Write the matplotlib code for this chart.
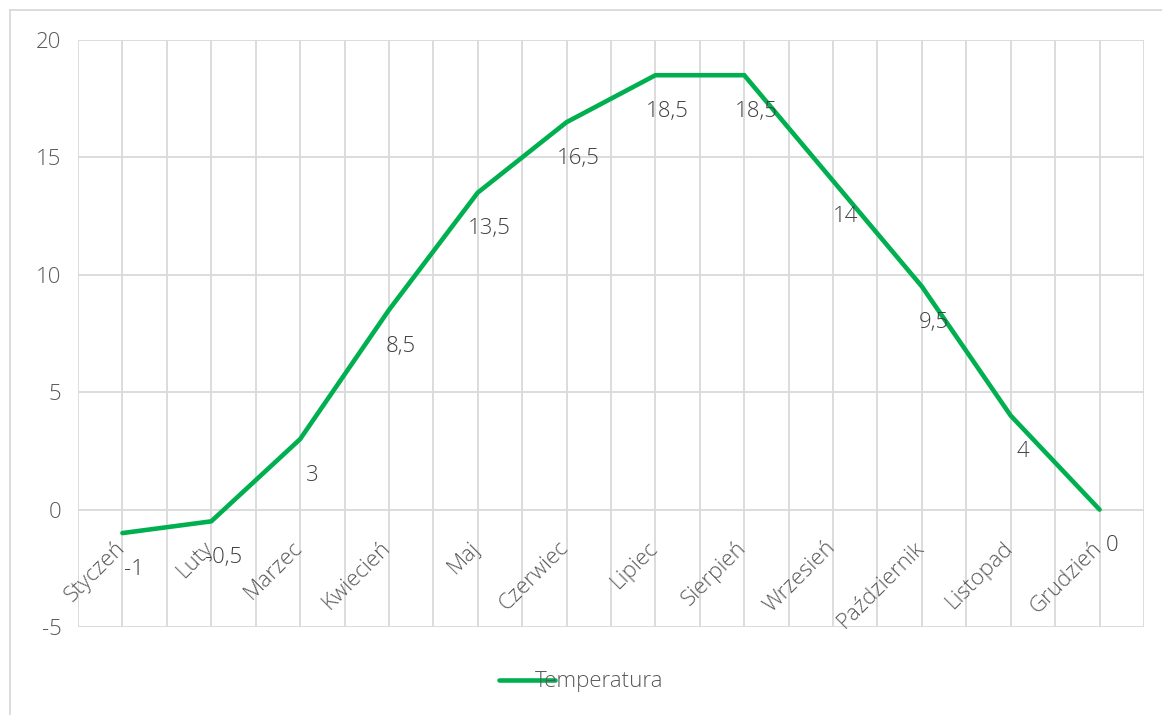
import numpy as np
import matplotlib
matplotlib.use("Agg")
import matplotlib.pyplot as plt
from matplotlib.lines import Line2D
from matplotlib.transforms import offset_copy

plt.rcParams["font.family"] = ["Open Sans", "DejaVu Sans"]
plt.rcParams["font.weight"] = "light"

months = ["Styczeń", "Luty", "Marzec", "Kwiecień", "Maj", "Czerwiec",
          "Lipiec", "Sierpień", "Wrzesień", "Październik", "Listopad", "Grudzień"]
temperatura = [-1, -0.5, 3, 8.5, 13.5, 16.5, 18.5, 18.5, 14, 9.5, 4, 0]
y_ticks = [-5, 0, 5, 10, 15, 20]

GREEN = "#00B050"
GRID = "#D9D9D9"
TEXT = "#595959"
LABEL = "#404040"

W, H = 1162, 715
fig = plt.figure(figsize=(W / 100, H / 100), dpi=100)
ax = fig.add_axes([78 / W, 1 - 627 / H, (1144 - 78) / W, (627 - 40) / H])

x = np.arange(len(months))
ax.plot(x, temperatura, color=GREEN, lw=3.3, solid_capstyle="round",
        solid_joinstyle="miter", label="Temperatura", zorder=3)

ax.set_xlim(-0.5, len(months) - 0.5)
ax.set_ylim(y_ticks[0], y_ticks[-1])
ax.set_yticks(y_ticks)
ax.set_yticklabels([str(v) for v in y_ticks])
ax.set_xticks(np.arange(-0.5, len(months), 0.5))
ax.set_xticklabels([])
ax.tick_params(length=0, labelsize=16, colors=TEXT, pad=12)
ax.grid(True, color=GRID, lw=1.3)
ax.set_axisbelow(True)
for s in ax.spines.values():
    s.set_visible(False)

# category labels sit under the zero line, rotated
for xi, name in zip(x, months):
    tr = offset_copy(ax.transData, fig=fig, x=-1, y=-35, units="dots")
    ax.text(xi, 0, name, transform=tr, rotation=45, rotation_mode="anchor",
            ha="right", va="center", fontsize=16, color=TEXT)

# value labels below each point
for xi, v in zip(x, temperatura):
    tr = offset_copy(ax.transData, fig=fig, x=12, y=-36, units="dots")
    ax.text(xi, v, f"{v:g}".replace(".", ","), transform=tr, ha="center",
            va="center", fontsize=16, color=LABEL, zorder=4)

leg = ax.legend(loc="center", bbox_to_anchor=(581 / W, 1 - 682 / H),
                bbox_transform=fig.transFigure, frameon=False, fontsize=16,
                handlelength=2.5, handletextpad=-0.9, labelcolor=TEXT)

# chart area border
fig.add_artist(Line2D([10 / W, 10 / W], [0, 1 - 10 / H], color=GRID, lw=1.3,
                      transform=fig.transFigure))
fig.add_artist(Line2D([10 / W, 1], [1 - 10 / H, 1 - 10 / H], color=GRID, lw=1.3,
                      transform=fig.transFigure))

fig.savefig("out.png", dpi=100)
